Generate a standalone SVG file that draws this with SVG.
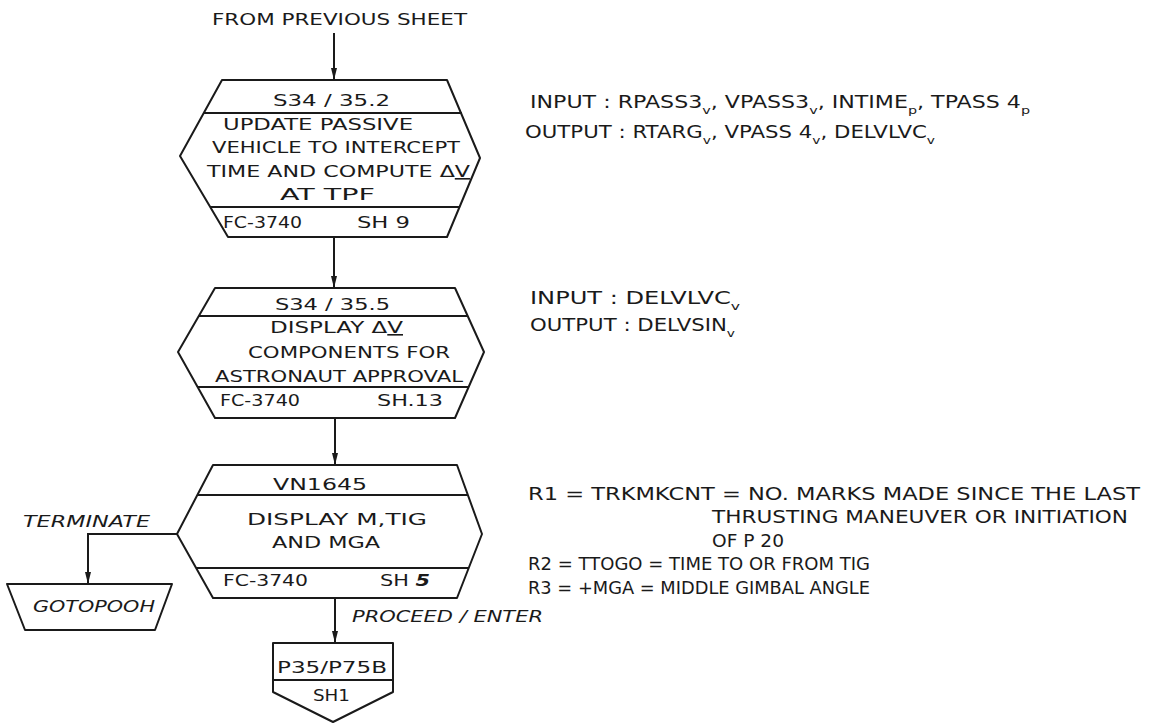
<svg xmlns="http://www.w3.org/2000/svg" width="1149" height="723" viewBox="0 0 1149 723">
  <defs>
    <marker id="arrow" viewBox="0 0 12 8" refX="12" refY="4" markerWidth="12" markerHeight="8" markerUnits="userSpaceOnUse" orient="auto">
      <path d="M0,1 L12,4 L0,7 Z" fill="#1a1a1a"/>
    </marker>
    <style>
      .shape { fill: none; stroke: #1a1a1a; stroke-width: 2; stroke-linejoin: round; }
      .div { stroke: #1a1a1a; stroke-width: 2; }
      .conn { fill: none; stroke: #1a1a1a; stroke-width: 2; }
      .t { font-family: "DejaVu Sans", "Liberation Sans", sans-serif; font-size: 16px; fill: #1a1a1a; }
      .n { font-family: "DejaVu Sans", "Liberation Sans", sans-serif; font-size: 17px; fill: #1a1a1a; }
      .i { font-family: "DejaVu Sans", "Liberation Sans", sans-serif; font-size: 16px; font-style: italic; fill: #1a1a1a; }
      .sub { font-size: 11px; }
    </style>
  </defs>
  <rect width="1149" height="723" fill="#ffffff"/>

  <!-- connectors -->
  <g id="connectors">
    <line class="conn" x1="334" y1="33" x2="334" y2="80" marker-end="url(#arrow)"/>
    <line class="conn" x1="334" y1="237" x2="334" y2="288" marker-end="url(#arrow)"/>
    <line class="conn" x1="335" y1="418" x2="335" y2="465" marker-end="url(#arrow)"/>
    <line class="conn" x1="335" y1="598" x2="335" y2="643" marker-end="url(#arrow)"/>
    <path class="conn" d="M177,534 H88 V584" marker-end="url(#arrow)"/>
    <text class="i" x="23" y="527" textLength="127" lengthAdjust="spacingAndGlyphs">TERMINATE</text>
    <text class="i" x="352" y="622" textLength="191" lengthAdjust="spacingAndGlyphs">PROCEED / ENTER</text>
  </g>

  <text id="from-previous" class="t" x="212" y="25" textLength="255" lengthAdjust="spacingAndGlyphs">FROM PREVIOUS SHEET</text>

  <!-- S34/35.2 -->
  <g id="node-s34-35-2">
    <polygon class="shape" points="222,80 447,80 480,158 447,237 228,237 180,156"/>
    <line class="div" x1="204" y1="113" x2="462" y2="113"/>
    <line class="div" x1="210" y1="207" x2="460" y2="207"/>
    <text class="t" x="273" y="106" textLength="117" lengthAdjust="spacingAndGlyphs">S34 / 35.2</text>
    <text class="t" x="223" y="130" textLength="190" lengthAdjust="spacingAndGlyphs">UPDATE PASSIVE</text>
    <text class="t" x="212" y="153" textLength="248" lengthAdjust="spacingAndGlyphs">VEHICLE TO INTERCEPT</text>
    <text class="t" x="207" y="177" textLength="263" lengthAdjust="spacingAndGlyphs">TIME AND COMPUTE Δ<tspan text-decoration="underline">V</tspan></text>
    <text class="t" x="280" y="200" textLength="95" lengthAdjust="spacingAndGlyphs">AT TPF</text>
    <text class="t" x="223" y="228" textLength="79" lengthAdjust="spacingAndGlyphs">FC-3740</text>
    <text class="t" x="357" y="228" textLength="53" lengthAdjust="spacingAndGlyphs">SH 9</text>
  </g>

  <!-- S34/35.5 -->
  <g id="node-s34-35-5">
    <polygon class="shape" points="215,288 455,288 484,352 455,418 215,418 178,352"/>
    <line class="div" x1="199" y1="316" x2="468" y2="316"/>
    <line class="div" x1="197" y1="387" x2="469" y2="387"/>
    <text class="t" x="275" y="310" textLength="115" lengthAdjust="spacingAndGlyphs">S34 / 35.5</text>
    <text class="t" x="270" y="333" textLength="133" lengthAdjust="spacingAndGlyphs">DISPLAY Δ<tspan text-decoration="underline">V</tspan></text>
    <text class="t" x="248" y="358" textLength="202" lengthAdjust="spacingAndGlyphs">COMPONENTS FOR</text>
    <text class="t" x="215" y="382" textLength="248" lengthAdjust="spacingAndGlyphs">ASTRONAUT APPROVAL</text>
    <text class="t" x="220" y="406" textLength="80" lengthAdjust="spacingAndGlyphs">FC-3740</text>
    <text class="t" x="377" y="406" textLength="66" lengthAdjust="spacingAndGlyphs">SH.13</text>
  </g>

  <!-- VN1645 -->
  <g id="node-vn1645">
    <polygon class="shape" points="213,465 457,465 482,534 457,598 213,598 177,534"/>
    <line class="div" x1="197" y1="495" x2="468" y2="495"/>
    <line class="div" x1="196" y1="568" x2="469" y2="568"/>
    <text class="t" x="273" y="490" textLength="94" lengthAdjust="spacingAndGlyphs">VN1645</text>
    <text class="t" x="247" y="525" textLength="180" lengthAdjust="spacingAndGlyphs">DISPLAY  M,TIG</text>
    <text class="t" x="272" y="548" textLength="108" lengthAdjust="spacingAndGlyphs">AND MGA</text>
    <text class="t" x="223" y="586" textLength="85" lengthAdjust="spacingAndGlyphs">FC-3740</text>
    <text class="t" x="380" y="586" textLength="50" lengthAdjust="spacingAndGlyphs">SH <tspan font-style="italic" font-weight="bold">5</tspan></text>
  </g>

  <!-- GOTO POOH -->
  <g id="node-goto-pooh">
    <polygon class="shape" points="7,584 172,584 155,630 25,630"/>
    <text class="i" x="33" y="612" textLength="122" lengthAdjust="spacingAndGlyphs">GOTOPOOH</text>
  </g>

  <!-- off-page connector P35/P75B -->
  <g id="node-p35-p75b">
    <polygon class="shape" points="273,643 393,643 393,692 333,722 273,692"/>
    <line class="div" x1="273" y1="680" x2="393" y2="680"/>
    <text class="t" x="277" y="673" textLength="110" lengthAdjust="spacingAndGlyphs">P35/P75B</text>
    <text class="t" x="313" y="701" textLength="37" lengthAdjust="spacingAndGlyphs">SH1</text>
  </g>

  <!-- annotations -->
  <g id="notes-s34-35-2">
    <text class="n" x="530" y="108" textLength="500" lengthAdjust="spacingAndGlyphs">INPUT : RPASS3<tspan class="sub" dy="6">v</tspan><tspan dy="-6">, VPASS3</tspan><tspan class="sub" dy="6">v</tspan><tspan dy="-6">, INTIME</tspan><tspan class="sub" dy="6">p</tspan><tspan dy="-6">, TPASS 4</tspan><tspan class="sub" dy="6">p</tspan></text>
    <text class="n" x="525" y="138" textLength="410" lengthAdjust="spacingAndGlyphs">OUTPUT : RTARG<tspan class="sub" dy="6">v</tspan><tspan dy="-6">, VPASS 4</tspan><tspan class="sub" dy="6">v</tspan><tspan dy="-6">, DELVLVC</tspan><tspan class="sub" dy="6">v</tspan></text>
  </g>
  <g id="notes-s34-35-5">
    <text class="n" x="530" y="304" textLength="210" lengthAdjust="spacingAndGlyphs">INPUT : DELVLVC<tspan class="sub" dy="6">v</tspan></text>
    <text class="n" x="530" y="331" textLength="205" lengthAdjust="spacingAndGlyphs">OUTPUT : DELVSIN<tspan class="sub" dy="6">v</tspan></text>
  </g>
  <g id="notes-vn1645">
    <text class="n" x="528" y="500" textLength="612" lengthAdjust="spacingAndGlyphs">R1 = TRKMKCNT = NO. MARKS MADE SINCE THE LAST</text>
    <text class="n" x="712" y="523" textLength="416" lengthAdjust="spacingAndGlyphs">THRUSTING MANEUVER OR INITIATION</text>
    <text class="n" x="712" y="547" textLength="72" lengthAdjust="spacingAndGlyphs">OF P 20</text>
    <text class="n" x="528" y="570" textLength="342" lengthAdjust="spacingAndGlyphs">R2 = TTOGO = TIME TO OR FROM TIG</text>
    <text class="n" x="528" y="594" textLength="342" lengthAdjust="spacingAndGlyphs">R3 = +MGA = MIDDLE GIMBAL ANGLE</text>
  </g>
</svg>
